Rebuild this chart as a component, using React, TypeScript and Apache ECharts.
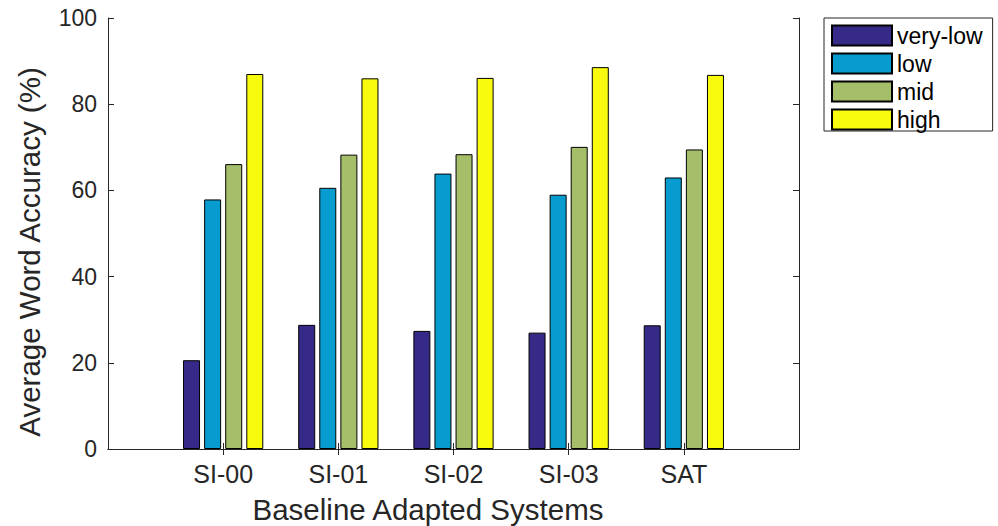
import React, { useEffect, useRef } from "react";
import * as echarts from "echarts";

const categories = ["SI-00", "SI-01", "SI-02", "SI-03", "SAT"];
const seriesNames = ["very-low", "low", "mid", "high"];
const veryLow = [20.6, 28.8, 27.4, 27.0, 28.7];
const low = [57.9, 60.6, 63.9, 59.0, 63.0];
const mid = [66.1, 68.3, 68.4, 70.1, 69.5];
const high = [87.0, 86.0, 86.1, 88.6, 86.8];
const colors = ["#352A87", "#079CCF", "#A5BE6A", "#F9FB0E"];
const yTicks = [0, 20, 40, 60, 80, 100];
const xTitle = "Baseline Adapted Systems";
const yTitle = "Average Word Accuracy (%)";

const FONT = "Liberation Sans, Arial, Helvetica, sans-serif";
const AXIS = "#262626";

export default function App() {
  const ref = useRef<HTMLDivElement>(null);
  useEffect(() => {
    if (!ref.current) return;
    const chart = echarts.init(ref.current, undefined, { renderer: "svg" });
    const axisData = ["", ...categories, ""];
    const pad = (arr: number[]) => ["-", ...arr, "-"];
    const values = [veryLow, low, mid, high];
    const tickFn = (i: number) => i > 0 && i < axisData.length - 1;
    chart.setOption({
      animation: false,
      textStyle: { fontFamily: FONT },
      grid: { left: 108, top: 18, right: 199, bottom: 77, containLabel: false },
      legend: {
        orient: "vertical",
        left: 824,
        top: 18,
        padding: [6, 10, 0, 7],
        itemWidth: 60,
        itemHeight: 20,
        itemGap: 5,
        borderColor: AXIS,
        borderWidth: 1,
        icon: "rect",
        textStyle: { fontSize: 23, color: "#000", fontFamily: FONT },
        data: seriesNames,
      },
      graphic: [
        {
          type: "text",
          x: 428,
          y: 509,
          style: {
            text: xTitle,
            fontSize: 29.5,
            fontFamily: FONT,
            fill: AXIS,
            textAlign: "center",
            textVerticalAlign: "middle",
          },
        },
        {
          type: "text",
          x: 29,
          y: 252,
          rotation: Math.PI / 2,
          style: {
            text: yTitle,
            fontSize: 29.5,
            fontFamily: FONT,
            fill: AXIS,
            textAlign: "center",
            textVerticalAlign: "middle",
          },
        },
      ],
      xAxis: [
        {
          type: "category",
          data: axisData,
          boundaryGap: false,
          axisLine: { show: true, lineStyle: { color: AXIS, width: 1 } },
          axisTick: { show: true, inside: true, length: 6, interval: (i: number) => tickFn(i), lineStyle: { color: AXIS } },
          axisLabel: { fontSize: 25, color: AXIS, margin: 12, interval: 0, fontFamily: FONT },
          splitLine: { show: false },
        },
        {
          type: "category",
          data: axisData,
          boundaryGap: false,
          position: "top",
          axisLine: { show: true, lineStyle: { color: AXIS, width: 1 } },
          axisTick: { show: true, inside: true, length: 6, interval: (i: number) => tickFn(i), lineStyle: { color: AXIS } },
          axisLabel: { show: false },
          splitLine: { show: false },
        },
      ],
      yAxis: [
        {
          type: "value",
          min: 0,
          max: 100,
          interval: 20,
          axisLine: { show: true, lineStyle: { color: AXIS, width: 1 } },
          axisTick: { show: true, inside: true, length: 6, lineStyle: { color: AXIS } },
          axisLabel: {
            fontSize: 23,
            color: AXIS,
            margin: 11,
            fontFamily: FONT,
            formatter: (v: number) => (yTicks.includes(v) ? String(v) : ""),
          },
          splitLine: { show: false },
        },
        {
          type: "value",
          min: 0,
          max: 100,
          interval: 20,
          position: "right",
          axisLine: { show: true, lineStyle: { color: AXIS, width: 1 } },
          axisTick: { show: true, inside: true, length: 6, lineStyle: { color: AXIS } },
          axisLabel: { show: false },
          splitLine: { show: false },
        },
      ],
      series: seriesNames.map((name, k) => ({
        name,
        type: "bar",
        xAxisIndex: 0,
        yAxisIndex: 0,
        data: pad(values[k]),
        barWidth: 17,
        barGap: "24%",
        itemStyle: { color: colors[k], borderColor: "#000", borderWidth: 1 },
      })),
    });
    return () => chart.dispose();
  }, []);
  return <div ref={ref} style={{ width: 998, height: 526, position: "absolute", left: 0, top: 0 }} />;
}
